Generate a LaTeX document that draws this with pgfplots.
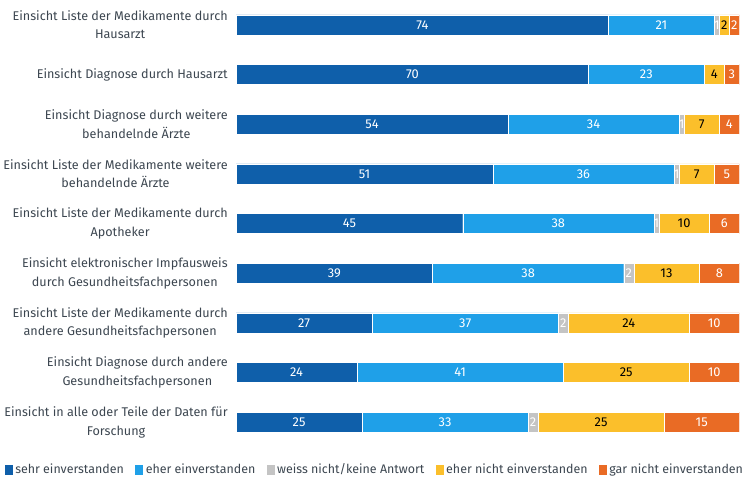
\documentclass[border=0pt]{standalone}
\usepackage{pgfplots}
\pgfplotsset{compat=1.18}
\usepackage{pgfplotstable}
\usepackage{fontspec}
\setmainfont{Fira Sans}
\definecolor{c1}{HTML}{0F5FAA}
\definecolor{c2}{HTML}{1FA0E8}
\definecolor{c3}{HTML}{C4C4C4}
\definecolor{c4}{HTML}{FBBF2B}
\definecolor{c5}{HTML}{E96B25}
\definecolor{txt}{HTML}{3C4650}

% values in percent, one row per category (top to bottom)
\pgfplotstableread{
idx a b c d e
0 74 21 1 2 2
1 70 23 0 4 3
2 54 34 1 7 4
3 51 36 1 7 5
4 45 38 1 10 6
5 39 38 2 13 8
6 27 37 2 24 10
7 24 41 0 25 10
8 25 33 2 25 15
}\data

\begin{document}
\begin{tikzpicture}
\begin{axis}[
  xbar stacked,
  scale only axis,
  width=502pt, height=446pt,
  bar width=20pt,
  xmin=0, xmax=100,
  ymin=-0.5, ymax=8.5,
  y dir=reverse,
  axis line style={draw=none},
  xtick=\empty,
  ytick={0,...,8},
  major tick length=0pt,
  yticklabels={
    {Einsicht Liste der Medikamente durch\\Hausarzt},
    {Einsicht Diagnose durch Hausarzt},
    {Einsicht Diagnose durch weitere\\behandelnde Ärzte},
    {Einsicht Liste der Medikamente weitere\\behandelnde Ärzte},
    {Einsicht Liste der Medikamente durch\\Apotheker},
    {Einsicht elektronischer Impfausweis\\durch Gesundheitsfachpersonen},
    {Einsicht Liste der Medikamente durch\\andere Gesundheitsfachpersonen},
    {Einsicht Diagnose durch andere\\Gesundheitsfachpersonen},
    {Einsicht in alle oder Teile der Daten für\\Forschung}},
  yticklabel style={align=center, font=\fontsize{12.6}{18.5}\selectfont, text=txt, xshift=-5pt},
  nodes near coords={\pgfmathtruncatemacro\vv{\val}\ifnum\vv>0 \vv\fi},
  every node near coord/.append style={font=\fontsize{12.8}{14}\selectfont, text=white,
    anchor=center, inner sep=0pt},
  legend columns=5,
  legend style={draw=none, at={(axis description cs:-0.462,-0.05)}, anchor=west,
    inner sep=0pt, font=\fontsize{12.4}{14}\selectfont, text=txt,
    /tikz/every even column/.append style={column sep=8.5pt}},
  legend image code/.code={\fill[#1] (0pt,-5.5pt) rectangle (9pt,5.5pt);},
  every axis plot/.append style={draw=white, line width=0.3pt},
]
\addplot[fill=c1, visualization depends on={\thisrow{a}\as\val}] table[x=a, y=idx] {\data};
\addplot[fill=c2, visualization depends on={\thisrow{b}\as\val}] table[x=b, y=idx] {\data};
\addplot[fill=c3, visualization depends on={\thisrow{c}\as\val}] table[x=c, y=idx] {\data};
\addplot[fill=c4, visualization depends on={\thisrow{d}\as\val},
  every node near coord/.append style={text=black}] table[x=d, y=idx] {\data};
\addplot[fill=c5, visualization depends on={\thisrow{e}\as\val}] table[x=e, y=idx] {\data};
\legend{sehr einverstanden, eher einverstanden, weiss nicht/keine Antwort, eher nicht einverstanden, gar nicht einverstanden}
\end{axis}
\end{tikzpicture}
\end{document}
